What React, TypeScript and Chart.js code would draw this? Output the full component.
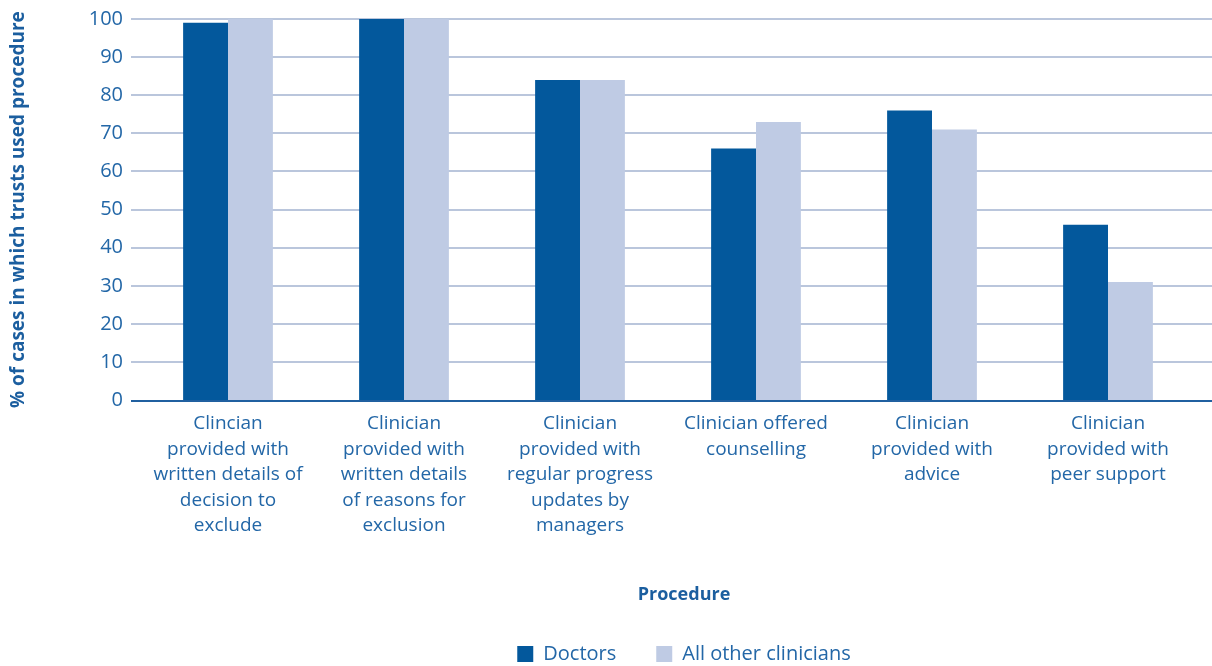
import { useEffect, useRef } from "react";
import { Chart, registerables } from "chart.js";

Chart.register(...registerables);

// Procedure categories (x axis), each split into display lines
const categories: string[][] = [
  ["Clincian", "provided with", "written details of", "decision to", "exclude"],
  ["Clinician", "provided with", "written details", "of reasons for", "exclusion"],
  ["Clinician", "provided with", "regular progress", "updates by", "managers"],
  ["Clinician offered", "counselling"],
  ["Clinician", "provided with", "advice"],
  ["Clinician", "provided with", "peer support"],
];

// % of cases in which trusts used each procedure
const doctors = [99, 100, 84, 66, 76, 46];
const allOtherClinicians = [100, 100, 84, 73, 71, 31];

const seriesNames = ["Doctors", "All other clinicians"];
const yTickMin = 0;
const yTickMax = 100;
const yTickStep = 10;
const yAxisTitle = "% of cases in which trusts used procedure";
const xAxisTitle = "Procedure";

const FONT = "'Open Sans', 'Noto Sans', sans-serif";
const DARK_BLUE = "#03589C";
const LIGHT_BLUE = "#BFCBE4";
const TEXT_BLUE = "#2367A7";
const TITLE_BLUE = "#1B5E9F";
const GRID_COLOR = "#BAC6DC";
const BASELINE_COLOR = "#2060A0";

const WIDTH = 1212;
const HEIGHT = 666;

// Horizontal gridlines run from just left of the plot to the right edge of the canvas.
const fullWidthGrid = {
  id: "fullWidthGrid",
  beforeDatasetsDraw(chart: any) {
    const { ctx, chartArea, scales } = chart;
    const y = scales.y;
    const x0 = chartArea.left - 9;
    ctx.save();
    ctx.lineWidth = 2;
    ctx.strokeStyle = GRID_COLOR;
    for (const t of y.ticks) {
      if (t.value === yTickMin) continue;
      const py = Math.round(y.getPixelForValue(t.value));
      ctx.beginPath();
      ctx.moveTo(x0, py);
      ctx.lineTo(chart.width, py);
      ctx.stroke();
    }
    ctx.restore();
  },
  afterDatasetsDraw(chart: any) {
    const { ctx, chartArea, scales } = chart;
    const py = Math.round(scales.y.getPixelForValue(yTickMin)) + 1;
    ctx.save();
    ctx.lineWidth = 2;
    ctx.strokeStyle = BASELINE_COLOR;
    ctx.beginPath();
    ctx.moveTo(chartArea.left - 9, py);
    ctx.lineTo(chart.width, py);
    ctx.stroke();
    ctx.restore();
  },
};

// Places the axis title and legend blocks under the bar groups.
const BLOCK_CENTER_X = 684;
const LEGEND_SHIFT_Y = 8;
const TITLE_SHIFT_Y = 10;
const placeBottomBlocks = {
  id: "placeBottomBlocks",
  afterLayout(chart: any) {
    const blocks: [any, number][] = [
      [chart.legend, LEGEND_SHIFT_Y],
      [chart.titleBlock, TITLE_SHIFT_Y],
    ];
    for (const [box, dy] of blocks) {
      if (!box) continue;
      const dx = BLOCK_CENTER_X - (box.left + box.right) / 2;
      box.left += dx;
      box.right += dx;
      box.top += dy;
      box.bottom += dy;
    }
  },
};

export default function App() {
  const canvasRef = useRef<HTMLCanvasElement | null>(null);

  useEffect(() => {
    if (!canvasRef.current) return;
    const chart = new Chart(canvasRef.current, {
      type: "bar",
      data: {
        labels: categories,
        datasets: [
          {
            label: seriesNames[0],
            data: doctors,
            backgroundColor: DARK_BLUE,
            borderWidth: 0,
            categoryPercentage: 0.51,
            barPercentage: 1,
          },
          {
            label: seriesNames[1],
            data: allOtherClinicians,
            backgroundColor: LIGHT_BLUE,
            borderWidth: 0,
            categoryPercentage: 0.51,
            barPercentage: 1,
          },
        ],
      },
      options: {
        responsive: false,
        animation: false,
        devicePixelRatio: 1,
        layout: { padding: { top: 19, right: 16, left: 0, bottom: 0 } },
        scales: {
          x: {
            grid: { display: false, drawTicks: false },
            border: { display: false },
            ticks: {
              color: TEXT_BLUE,
              font: { family: FONT, size: 19, lineHeight: "25.5px" },
              padding: 11,
              maxRotation: 0,
              autoSkip: false,
            },
            afterFit(scale: any) {
              scale.height = 174.2;
            },
          },
          y: {
            min: yTickMin,
            max: yTickMax,
            grid: { display: false, drawTicks: false },
            border: { display: false },
            ticks: {
              stepSize: yTickStep,
              color: TEXT_BLUE,
              font: { family: FONT, size: 20 },
              padding: 17,
            },
            title: {
              display: true,
              text: yAxisTitle,
              color: TITLE_BLUE,
              font: { family: FONT, size: 19, weight: "bold", lineHeight: 1.2 },
              padding: { top: 7, bottom: 0 },
            },
            afterFit(scale: any) {
              scale.width = 140;
              scale.paddingTop = 0;
              scale.paddingBottom = 0;
            },
          },
        },
        plugins: {
          title: {
            display: true,
            text: xAxisTitle,
            position: "bottom",
            weight: 500,
            color: TITLE_BLUE,
            font: { family: FONT, size: 18, weight: "bold", lineHeight: 1.2 },
            padding: { top: 0, bottom: 0 },
          },
          legend: {
            position: "bottom",
            labels: {
              color: TEXT_BLUE,
              font: { family: FONT, size: 20 },
              boxWidth: 16,
              boxHeight: 16,
              padding: 40,
            },
          },
          tooltip: { enabled: false },
        },
      },
      plugins: [fullWidthGrid, placeBottomBlocks],
    } as any);
    return () => chart.destroy();
  }, []);

  return (
    <div style={{ position: "absolute", left: 0, top: 0, width: WIDTH, height: HEIGHT, background: "#fff" }}>
      <canvas ref={canvasRef} width={WIDTH} height={HEIGHT} style={{ display: "block" }} />
    </div>
  );
}
